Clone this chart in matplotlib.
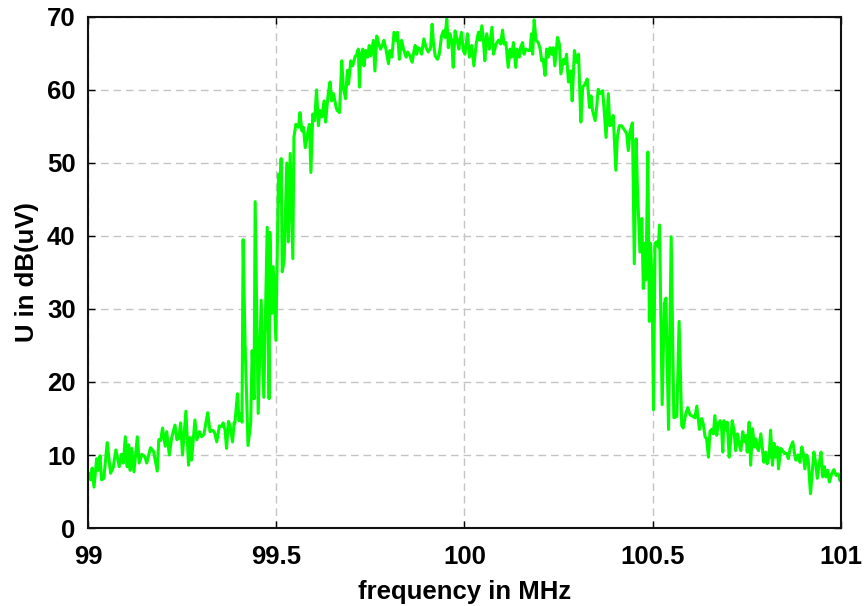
import matplotlib
matplotlib.use("Agg")
import matplotlib.pyplot as plt

# spectrum trace (MHz, dBuV)
freq_mhz = [
    99.000, 99.004, 99.007, 99.011, 99.016, 99.023, 99.027, 99.032, 99.036, 99.042,
    99.051, 99.060, 99.067, 99.074, 99.083, 99.089, 99.094, 99.099, 99.104, 99.108,
    99.112, 99.116, 99.122, 99.131, 99.136, 99.143, 99.151, 99.156, 99.166, 99.174,
    99.184, 99.188, 99.193, 99.198, 99.205, 99.209, 99.216, 99.222, 99.231, 99.236,
    99.241, 99.246, 99.251, 99.260, 99.267, 99.271, 99.275, 99.284, 99.289, 99.296,
    99.302, 99.308, 99.313, 99.318, 99.324, 99.331, 99.336, 99.342, 99.349, 99.355,
    99.359, 99.364, 99.368, 99.373, 99.377, 99.384, 99.388,
    # rising edge
    99.390, 99.397, 99.401, 99.405, 99.409, 99.412, 99.417, 99.425, 99.432, 99.436,
    99.441, 99.444, 99.452, 99.460, 99.467, 99.471, 99.476, 99.481, 99.483, 99.488,
    99.492, 99.499, 99.506, 99.510, 99.513, 99.516, 99.521, 99.528, 99.532, 99.537,
    99.544,
    # top of the channel
    99.547, 99.552, 99.559, 99.563, 99.568, 99.572, 99.577, 99.583, 99.588, 99.592,
    99.597, 99.602, 99.607, 99.612, 99.616, 99.621, 99.627, 99.631, 99.638, 99.643,
    99.647, 99.652, 99.659, 99.662, 99.668, 99.671, 99.674, 99.678, 99.684, 99.689,
    99.692, 99.698, 99.703, 99.709, 99.714, 99.718, 99.721, 99.724, 99.730, 99.733,
    99.738, 99.743, 99.747, 99.751, 99.758, 99.762, 99.767, 99.771, 99.777, 99.783,
    99.786, 99.792, 99.798, 99.802, 99.807, 99.813, 99.818, 99.822, 99.827, 99.833,
    99.839, 99.845, 99.849, 99.855, 99.861, 99.866, 99.869, 99.873, 99.877, 99.882,
    99.886, 99.892, 99.898, 99.904, 99.910, 99.914, 99.917, 99.922, 99.928, 99.933,
    99.939, 99.944, 99.948, 99.953, 99.957, 99.961, 99.966, 99.970, 99.975, 99.979,
    99.985,
    99.988, 99.992, 99.997, 100.001, 100.008, 100.013, 100.019, 100.025, 100.031, 100.037,
    100.041, 100.046, 100.050, 100.054, 100.059, 100.066, 100.073, 100.077, 100.084, 100.090,
    100.096, 100.101, 100.105, 100.110, 100.116, 100.121, 100.125, 100.130, 100.136, 100.140,
    100.146, 100.149, 100.154, 100.158, 100.163, 100.170, 100.174, 100.178, 100.181, 100.185,
    100.190, 100.196, 100.201, 100.205, 100.209, 100.214, 100.218, 100.223, 100.227, 100.232,
    100.236, 100.240, 100.247, 100.252, 100.256, 100.263, 100.267, 100.271, 100.276, 100.282,
    100.286, 100.292, 100.298, 100.303, 100.309, 100.314, 100.320, 100.326, 100.332, 100.336,
    100.340, 100.347, 100.351, 100.355, 100.360, 100.367, 100.371, 100.376, 100.382, 100.386,
    100.391, 100.395,
    # falling edge
    100.402, 100.406, 100.411, 100.417, 100.424, 100.431, 100.435, 100.440, 100.446, 100.451,
    100.456, 100.459, 100.466, 100.471, 100.475, 100.479, 100.482, 100.487, 100.491, 100.494,
    100.498, 100.502, 100.506, 100.510, 100.515, 100.518, 100.525, 100.531, 100.535, 100.542,
    100.549, 100.556, 100.564, 100.570, 100.577, 100.581, 100.587, 100.593, 100.599, 100.606,
    100.612, 100.617, 100.624,
    # right tail
    100.630, 100.634, 100.639, 100.643, 100.648, 100.652, 100.656, 100.661, 100.665, 100.670,
    100.674, 100.679, 100.683, 100.686, 100.689, 100.695, 100.698, 100.703, 100.707, 100.711,
    100.716, 100.720, 100.725, 100.729, 100.734, 100.739, 100.743, 100.748, 100.751, 100.756,
    100.760, 100.765, 100.770, 100.774, 100.778, 100.781, 100.787, 100.791, 100.795, 100.800,
    100.804, 100.809, 100.813, 100.818, 100.822, 100.826, 100.831, 100.834, 100.840, 100.845,
    100.850, 100.856, 100.860, 100.865, 100.872, 100.876, 100.880, 100.886, 100.891, 100.896,
    100.900, 100.904, 100.909, 100.913, 100.919, 100.924, 100.928, 100.933, 100.937, 100.942,
    100.947, 100.951, 100.956, 100.960, 100.965, 100.969, 100.975, 100.981, 100.987, 100.993,
    100.997, 101.000,
]

level_dbuv = [
    7.0, 7.5, 6.6, 8.2, 5.6, 9.5, 7.9, 9.9, 6.6, 6.8,
    11.7, 7.5, 8.3, 10.7, 8.4, 10.1, 8.9, 12.5, 8.4, 11.4,
    7.9, 10.9, 7.7, 12.5, 8.9, 10.1, 9.8, 8.9, 11.0, 10.5,
    7.8, 12.1, 12.0, 13.7, 11.2, 13.2, 10.0, 12.3, 14.1, 12.1,
    12.3, 14.4, 10.0, 16.0, 8.6, 12.4, 9.3, 14.8, 12.1, 13.2,
    12.5, 12.8, 14.4, 15.8, 13.2, 13.4, 13.1, 11.8, 14.0, 13.9,
    14.4, 13.4, 10.9, 14.6, 14.1, 11.8, 14.4,
    14.3, 18.4, 14.7, 15.7, 14.5, 39.5, 25.7, 11.3, 14.3, 24.3,
    17.7, 44.7, 15.7, 31.2, 17.9, 28.0, 41.2, 17.7, 40.5, 29.4,
    35.8, 25.7, 48.5, 44.7, 50.6, 35.1, 36.7, 50.0, 39.2, 51.3,
    36.9,
    53.5, 55.3, 54.9, 56.9, 54.4, 54.9, 52.1, 54.0, 55.3, 48.7,
    56.7, 55.8, 60.0, 55.1, 57.2, 56.3, 58.5, 55.6, 59.5, 61.1,
    58.5, 59.5, 57.6, 57.2, 56.9, 60.4, 64.0, 60.4, 58.8, 62.7,
    60.8, 64.0, 63.3, 64.5, 64.9, 65.6, 60.4, 64.7, 65.6, 63.3,
    65.4, 64.5, 66.1, 64.7, 66.8, 62.6, 67.4, 66.5, 65.6, 66.3,
    66.8, 65.4, 63.6, 65.4, 64.5, 67.9, 66.8, 67.9, 64.2, 66.8,
    65.4, 64.5, 65.2, 64.7, 63.8, 65.4, 66.1, 64.9, 65.8, 65.6,
    64.9, 67.0, 65.8, 65.2, 65.8, 69.0, 66.8, 64.7, 64.2, 64.9,
    67.4, 68.1, 67.2, 69.7, 65.8, 67.7, 66.8, 63.1, 68.1, 67.2,
    65.6,
    66.8, 67.9, 65.4, 64.9, 67.7, 64.5, 66.1, 63.3, 66.3, 67.9,
    66.8, 68.8, 67.0, 64.0, 67.7, 65.6, 68.6, 64.9, 66.3, 66.8,
    66.3, 68.2, 66.3, 66.5, 63.1, 65.6, 64.5, 66.5, 63.1, 65.6,
    64.5, 65.8, 66.5, 64.9, 65.6, 65.4, 65.4, 67.7, 64.9, 69.6,
    66.8, 66.5, 65.6, 64.0, 64.2, 62.0, 65.6, 64.5, 65.8, 64.9,
    65.8, 63.3, 67.2, 66.3, 62.2, 64.2, 63.6, 64.9, 61.1, 62.6,
    58.5, 65.4, 63.8, 64.9, 55.6, 60.4, 60.8, 61.5, 57.6, 59.2,
    57.2, 55.8, 57.6, 60.1, 59.5, 59.9, 57.2, 53.5, 59.5, 55.1,
    55.3, 56.5,
    49.0, 53.5, 55.1, 55.1, 54.6, 54.0, 51.7, 54.4, 55.5, 36.2,
    53.3, 47.1, 37.8, 42.4, 32.8, 39.0, 34.0, 51.5, 28.3, 39.0,
    34.0, 16.2, 39.0, 39.2, 38.5, 41.5, 16.9, 30.8, 31.5, 13.5,
    39.9, 15.1, 15.3, 28.3, 14.0, 13.7, 15.5, 16.5, 15.5, 15.3,
    15.1, 16.7, 13.5,
    15.0, 14.3, 12.5, 12.2, 9.7, 13.2, 13.5, 12.9, 15.4, 12.7,
    14.3, 14.7, 13.6, 10.4, 14.7, 13.4, 14.5, 9.7, 12.0, 14.7,
    13.4, 10.6, 12.9, 11.6, 10.6, 13.2, 11.8, 12.7, 10.4, 14.5,
    8.6, 13.6, 11.1, 12.2, 10.9, 10.6, 12.9, 10.9, 9.0, 10.4,
    8.8, 9.7, 13.4, 8.6, 11.6, 9.7, 11.1, 8.1, 10.9, 10.6,
    10.2, 10.2, 9.5, 10.9, 11.8, 10.4, 9.3, 10.0, 9.0, 11.1,
    10.2, 8.1, 10.0, 9.3, 4.7, 7.9, 10.4, 8.8, 6.8, 8.8,
    10.4, 7.0, 8.4, 7.0, 7.9, 6.3, 7.4, 8.0, 7.2, 7.4,
    6.5, 6.8,
]

x_ticks = [99, 99.5, 100, 100.5, 101]
x_tick_labels = ["99", "99.5", "100", "100.5", "101"]
y_ticks = [0, 10, 20, 30, 40, 50, 60, 70]

plt.rcParams["font.family"] = ["Liberation Sans", "DejaVu Sans"]
plt.rcParams["font.weight"] = "bold"

fig = plt.figure(figsize=(8.67, 6.06), dpi=100)
ax = fig.add_axes([0.1015, 0.1287, 0.8685, 0.8433])

ax.plot(freq_mhz, level_dbuv, color="#00ff00", linewidth=2.2)

ax.set_xlim(99, 101)
ax.set_ylim(0, 70)
ax.set_xticks(x_ticks)
ax.set_xticklabels(x_tick_labels)
ax.set_yticks(y_ticks)

ax.grid(True, color="#c4c4c4", linestyle=(0, (5.5, 3.5)), linewidth=1.0)
ax.set_axisbelow(True)

for side in ax.spines.values():
    side.set_linewidth(1.5)
    side.set_color("#111111")

ax.tick_params(axis="both", which="both", direction="in", length=5, width=1.0,
               top=True, right=True, labelsize=18.5)
ax.tick_params(axis="x", pad=12)
ax.tick_params(axis="y", pad=9)
for lbl in ax.get_xticklabels() + ax.get_yticklabels():
    lbl.set_fontweight("bold")

ax.set_xlabel("frequency in MHz", fontsize=18.5, fontweight="bold", labelpad=8)
ax.set_ylabel("U in dB(uV)", fontsize=18.5, fontweight="bold", labelpad=6)

fig.savefig("out.png", dpi=100)
